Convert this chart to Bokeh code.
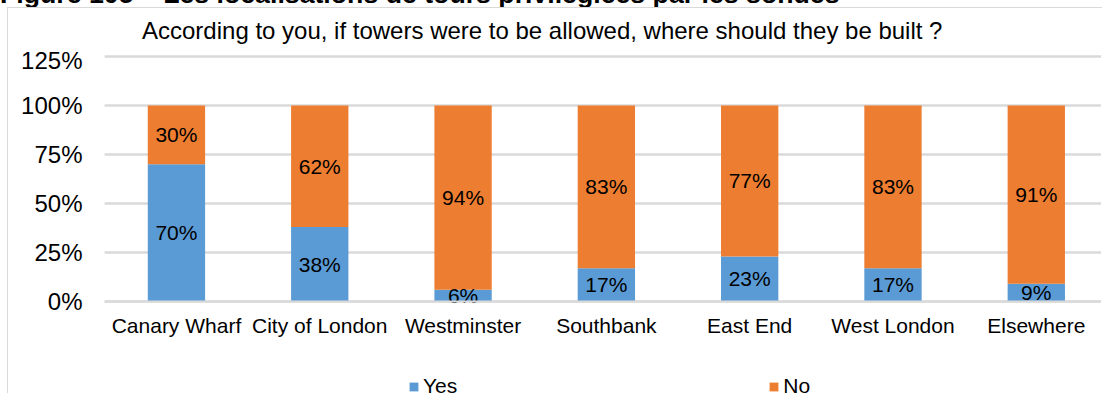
from bokeh.plotting import figure
from bokeh.models import Range1d, FixedTicker, Legend, LegendItem, ColumnDataSource, Div
from bokeh.layouts import column
from bokeh.core.properties import value
from bokeh.embed import file_html
from bokeh.resources import INLINE

categories = ["Canary Wharf", "City of London", "Westminster", "Southbank", "East End", "West London", "Elsewhere"]
yes_vals = [0.70, 0.38, 0.06, 0.17, 0.23, 0.17, 0.09]
no_vals = [0.30, 0.62, 0.94, 0.83, 0.77, 0.83, 0.91]
y_ticks = [0, 0.25, 0.5, 0.75, 1.0, 1.25]
y_tick_labels = ["0%", "25%", "50%", "75%", "100%", "125%"]
chart_title = "According to you, if towers were to be allowed, where should they be built ?"
figure_caption = "Figure 105 – Les localisations de tours privilégiées par les sondés"

FONT = "Liberation Sans"
BLUE = "#5B9BD5"
ORANGE = "#ED7D31"
GRID = "#d9d9d9"

xs = list(range(len(categories)))
yes_mid = [v / 2 for v in yes_vals]
no_bottom = yes_vals
no_top = [a + b for a, b in zip(yes_vals, no_vals)]
no_mid = [a + b / 2 for a, b in zip(yes_vals, no_vals)]

src = ColumnDataSource(dict(
    x=xs, yes=yes_vals, no_bottom=no_bottom, no_top=no_top,
    yes_mid=yes_mid, no_mid=no_mid,
    yes_lbl=[f"{round(v*100)}%" for v in yes_vals],
    no_lbl=[f"{round(v*100)}%" for v in no_vals],
))

# header: partly hidden document caption, chart-area border and chart title
header_html = f"""<div style="position:relative;width:1102px;height:46px;overflow:hidden;font-family:'Liberation Sans',Arial,sans-serif;color:#000;background:#fff;">
<div style="position:absolute;left:0px;top:-18.6px;font-size:26.7px;line-height:26.7px;font-weight:bold;white-space:nowrap;">{figure_caption}</div>
<div style="position:absolute;left:7px;top:7px;width:1200px;height:39px;border-left:1px solid {GRID};border-top:1px solid {GRID};background:#fff;"></div>
<div style="position:absolute;left:142px;top:19px;font-size:24px;line-height:24px;white-space:nowrap;">{chart_title}</div>
</div>"""
header = Div(text=header_html, width=1102, height=46, margin=(0, 0, 0, 0), styles={"overflow": "hidden"})

# frame spans down to the bottom edge so the legend below the axis stays visible
p = figure(width=1094, height=347, output_backend="svg", toolbar_location=None,
           x_range=Range1d(-0.502, 6.462), y_range=Range1d(-0.4694, 1.2806),
           min_border_left=96, min_border_right=0, min_border_top=4, min_border_bottom=0,
           title=None, margin=(0, 0, 0, 0))
p.styles = {"margin-left": "7px", "border-left": f"1px solid {GRID}", "position": "relative", "z-index": "1"}
p.outline_line_color = None
p.background_fill_color = "white"
p.border_fill_color = "white"

# horizontal gridlines (also drawn as spans so the top 125% line is always present)
p.hspan(y=y_ticks, line_color=GRID, line_width=2, level="underlay")

r_yes = p.vbar(x="x", bottom=0, top="yes", width=0.4, source=src, fill_color=BLUE, line_color=None)
r_no = p.vbar(x="x", bottom="no_bottom", top="no_top", width=0.4, source=src, fill_color=ORANGE, line_color=None)

p.text(x="x", y="yes_mid", text="yes_lbl", source=src, text_align="center", text_baseline="middle",
       text_font=value(FONT), text_font_size="21px", text_color="black")
p.text(x="x", y="no_mid", text="no_lbl", source=src, text_align="center", text_baseline="middle",
       text_font=value(FONT), text_font_size="21px", text_color="black")

# axes
p.xaxis.fixed_location = 0
p.xaxis.ticker = FixedTicker(ticks=xs)
p.xaxis.major_label_overrides = {i: c for i, c in enumerate(categories)}
p.xaxis.axis_line_color = GRID
p.xaxis.axis_line_width = 2
p.xaxis.major_tick_line_color = None
p.xaxis.minor_tick_line_color = None
p.xaxis.major_label_text_font = FONT
p.xaxis.major_label_text_font_size = "21px"
p.xaxis.major_label_text_color = "black"
p.xaxis.major_label_standoff = 7

p.yaxis.ticker = FixedTicker(ticks=y_ticks)
p.yaxis.major_label_overrides = {t_: l for t_, l in zip(y_ticks, y_tick_labels)}
p.yaxis.axis_line_color = None
p.yaxis.major_tick_line_color = None
p.yaxis.minor_tick_line_color = None
p.yaxis.major_label_text_font = FONT
p.yaxis.major_label_text_font_size = "24px"
p.yaxis.major_label_text_color = "black"
p.yaxis.major_label_standoff = 16

p.xgrid.grid_line_color = None
p.ygrid.ticker = FixedTicker(ticks=y_ticks)
p.ygrid.grid_line_color = GRID
p.ygrid.grid_line_width = 2

legend = Legend(items=[LegendItem(label="Yes", renderers=[r_yes]), LegendItem(label="No", renderers=[r_no])],
                location=(304, -5), orientation="horizontal", glyph_width=11, glyph_height=11,
                label_standoff=4, spacing=311, padding=0, margin=0,
                label_text_font=FONT, label_text_font_size="21px", label_text_color="black",
                border_line_color=None, background_fill_alpha=0)
p.add_layout(legend, "center")

layout = column(header, p, spacing=0)
open("out.html", "w").write(file_html(layout, INLINE))
